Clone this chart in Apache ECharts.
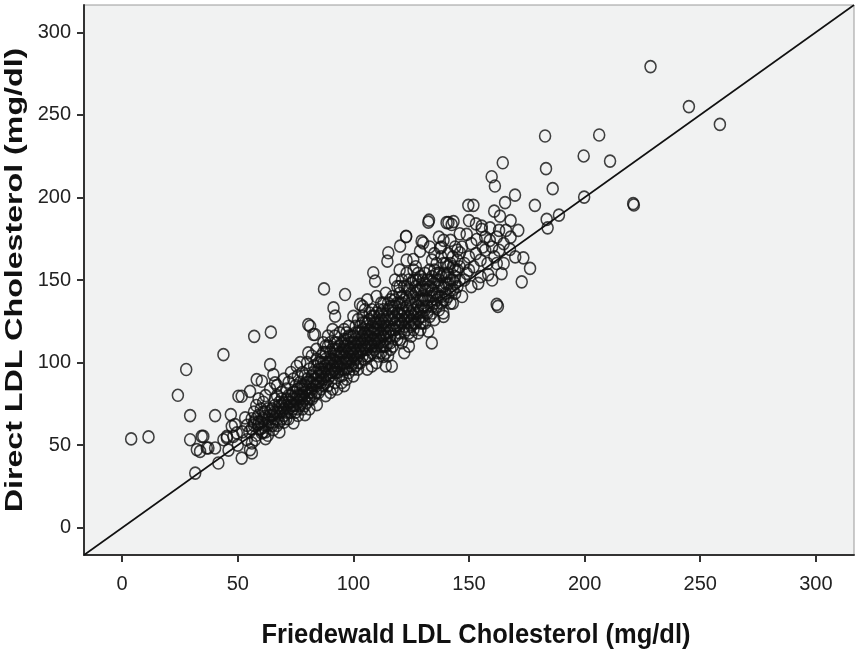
<!DOCTYPE html>
<html>
<head>
<meta charset="utf-8">
<script src="https://cdn.jsdelivr.net/npm/echarts@6/dist/echarts.min.js"></script>
<style>
html,body{margin:0;padding:0;background:#fff;}
#chart{width:858px;height:656px;}
</style>
</head>
<body>
<div id="chart"></div>
<script>
// Axis ranges and tick labels
const axisRange = [-16.5, 316.5];
const tickValues = [0, 50, 100, 150, 200, 250, 300];
const xTitle = 'Friedewald LDL Cholesterol (mg/dl)';
const yTitle = 'Direct LDL Cholesterol (mg/dl)';
// identity reference line (y = x) across the full axis range
const identityLine = [[-16.5, -16.5], [316.5, 316.5]];

// [Friedewald LDL, Direct LDL] pairs
const lowOutliers = [
  [3.9,53.8],[11.4,55],[24.1,80.2],[27.7,95.8],[29.4,67.9],[40.2,67.9],[47,68.5],
  [43.8,104.8],[57.1,115.9],[64.3,118.4],[50.3,79.6],[51.7,79.6],[31.6,33.1]
];
const segmentA = [
  [29.4,53.3],[34.4,55.3],[32.3,47.3],[36.6,48.3],[40.2,48.3],[43.8,53.3],[45.3,55.3],
  [48.1,55.3],[49.6,57.4],[41.6,39.2],[51.7,42.2],[55.3,47.3],[56.1,51.3],[57.5,53.3],
  [47.4,61.4],[48.8,62.4],[53.2,66.5],[35.1,55.3],[33.7,46.2],[45.3,54.4],[53.9,53.3],
  [56.1,45.3],[37.3,48.3],[52,58],[54,62],[50,50],[46,47]
];
const segmentB = [
  [58.9,62.4],[60.4,57.4],[65.4,59.4],[61.8,67.5],[64,70.5],[55.3,82.6],[58.2,89.7],
  [60.4,88.7],[64,98.8],[65.4,92.7],[66.1,87.7],[58,56],[59,60],[60,64],[61,58],[62,62],
  [63,66],[57,70],[58,74],[59,68],[60,72],[61,76],[62,54],[63,72],[64,64],[65,68],[66,74],
  [67,62],[68,70],[69,66],[66,78],[67,80],[68,76],[69,82],[70,72],[62,80],[64,84],[56,60],
  [57,64],[55,58],[68,58],[70,64],[59,78],[63,56],[67,86],[70,90],[61,70],[65,62],[69,74]
];
const segmentC = [
  [74.1,63.5],[79.1,68.5],[84.2,74.5],[75.5,97.8],[80.5,105.9],[83.4,117],[80.5,123],
  [71,70],[72,76],[73,80],[74,72],[75,78],[76,84],[77,74],[78,80],[79,86],[80,76],[81,82],
  [82,88],[83,80],[84,86],[85,92],[71,84],[72,88],[73,74],[74,90],[75,70],[76,92],[77,88],
  [78,94],[79,78],[80,90],[81,96],[82,84],[83,98],[84,94],[85,82],[72,66],[76,68],[78,72],
  [82,78],[85,100],[73,94],[77,100],[80,100],[82,104],[84,108],[71,78],[75,86],[79,92],
  [83,90],[81,72],[77,80],[74,82]
];
const segmentD = [
  [87.3,144.6],[91.4,133.1],[92.1,128.1],[81.3,122],[82.7,117],[96.4,141.2],[97,90],
  [86,84],[87,90],[88,96],[89,86],[90,92],[91,98],[92,88],[93,94],[94,100],[95,106],[96,96],
  [97,102],[98,108],[99,98],[100,104],[86,100],[87,106],[88,80],[89,110],[90,102],[91,84],
  [92,108],[93,112],[94,92],[95,88],[96,114],[97,118],[98,94],[99,112],[100,92],[86,94],
  [88,102],[90,82],[92,100],[94,106],[96,104],[98,100],[100,116],[87,112],[89,116],[91,120],
  [93,104],[95,96],[97,110],[99,106],[90,112],[94,118],[98,122],[86,88],[92,94],[96,86],
  [100,100],[88,88],[93,84],[97,96]
];
const segmentE = [
  [102.9,135.2],[108.6,154.4],[109.4,149.3],[113,103.8],[101,106],[102,112],[103,100],
  [104,108],[105,114],[106,104],[107,110],[108,118],[109,108],[110,114],[111,120],[112,110],
  [113,116],[114,122],[115,112],[101,118],[102,96],[103,122],[104,128],[105,102],[106,120],
  [107,126],[108,98],[109,124],[110,130],[111,104],[112,126],[113,132],[114,106],[115,128],
  [101,110],[103,114],[105,108],[107,116],[109,114],[111,112],[113,120],[115,118],[102,104],
  [104,116],[106,112],[108,110],[110,120],[112,118],[114,114],[104,134],[106,138],[110,140],
  [112,136],[114,142],[106,96],[110,100],[114,98],[108,128],[102,126],[105,132],[111,128],
  [107,104],[113,110],[101,98],[109,120],[115,104]
];
const segmentF = [
  [116.6,97.8],[115.1,166.5],[114.7,161.4],[120.2,170.5],[122.8,176.5],[130.2,172.5],
  [125.9,162.4],[128.8,167.5],[120.2,113.9],[116,120],[117,126],[118,116],[119,130],[120,122],
  [121,128],[122,118],[123,134],[124,124],[125,130],[126,120],[127,136],[128,126],[129,132],
  [130,140],[116,134],[117,110],[118,138],[119,114],[120,142],[121,112],[122,146],[123,120],
  [124,138],[125,116],[126,150],[127,124],[128,144],[129,120],[130,128],[118,124],[120,130],
  [122,126],[124,132],[126,128],[128,134],[130,124],[117,140],[119,146],[121,150],[123,154],
  [125,142],[127,146],[129,152],[116,108],[121,136],[125,122],[129,138],[124,110],[122,106],
  [128,118],[130,150],[118,150],[126,156],[120,156],[123,162],[127,158]
];
const segmentG = [
  [133.9,111.9],[132.4,119],[138.9,130.1],[137.5,169.5],[132.4,185],[140.3,184.7],
  [142.5,183.6],[132.7,186.2],[141.1,184.7],[143.3,185.3],[131,132],[132,138],[133,128],
  [134,144],[135,136],[136,150],[137,140],[138,146],[139,154],[140,142],[141,148],[142,160],
  [143,150],[144,156],[145,146],[131,144],[132,150],[133,156],[134,134],[135,126],[136,160],
  [137,132],[138,164],[139,138],[140,152],[141,166],[142,144],[143,136],[144,170],[145,162],
  [131,124],[133,140],[135,148],[137,154],[139,128],[141,140],[143,158],[134,162],[136,142],
  [138,170],[140,160],[142,174],[144,148],[131,154],[135,166],[139,174],[133,170],[137,176]
];
const segmentH = [
  [146.1,166.5],[149,177.6],[153.3,174.5],[155.5,180.6],[159.1,181.6],[158.3,153.3],
  [162,135.2],[149.7,195.2],[151.9,195.2],[155.5,182.6],[160.9,191.7],[163.4,188.7],
  [161.2,206.9],[159.8,212.5],[164.6,221],[165.6,196.8],[169.9,201.4],[171.3,180],
  [178.5,195.2],[173.5,163.4],[176.4,157],[164.1,153.9],[172.8,148.9],[167.7,168.5],
  [122.8,176.2],[129.5,173.5],[146,158],[147,170],[148,150],[150,164],[151,172],[152,158],
  [153,166],[154,148],[155,162],[156,170],[157,176],[158,160],[160,170],[161,164],[162,176],
  [163,168],[165,172],[166,180],[168,176],[170,164],[147,140],[149,154],[151,146],[153,184],
  [155,152],[157,168],[159,174],[146,178],[150,186],[160,150],[162,160],[165,160],[168,186],
  [163,180]
];
const segmentCore = [
  [56,66],[58,66],[60,60],[62,70],[63,62],[65,72],[66,66],[67,70],[68,64],[69,78],[70,68],
  [71,74],[72,72],[73,70],[74,78],[75,74],[76,80],[76,76],[77,84],[78,86],[78,76],[79,82],
  [80,84],[80,80],[81,88],[82,92],[83,86],[84,90],[85,88],[86,92],[86,96],[87,94],[87,100],
  [88,92],[88,106],[89,94],[89,100],[90,96],[90,106],[91,102],[91,108],[92,96],[92,104],
  [93,100],[93,108],[94,96],[94,110],[95,100],[95,112],[96,108],[96,100],[97,106],[97,114],
  [98,104],[98,112],[99,102],[99,116],[100,108],[100,112],[101,114],[101,102],[102,108],
  [102,118],[103,110],[103,106],[104,112],[104,120],[105,118],[105,110],[106,116],[106,124],
  [107,112],[107,120],[108,114],[108,122],[109,118],[109,128],[110,110],[110,124],[111,116],
  [111,124],[112,114],[112,122],[113,124],[113,128],[114,118],[114,126],[115,122],[115,132],
  [116,126],[116,116],[117,120],[117,130],[118,128],[118,134],[119,122],[119,136],[120,126],
  [120,136],[121,124],[121,132],[122,130],[122,138],[123,128],[123,140],[124,128],[124,144],
  [125,136],[125,126],[126,132],[126,140],[127,130],[127,142],[128,138],[128,150],[129,128],
  [129,144],[130,134],[130,146],[131,138],[132,144],[132,130],[133,146],[134,140],[134,152],
  [135,142],[136,138],[136,154],[137,146],[138,140],[138,152],[139,146],[140,148],[141,154],
  [142,150],[143,144],[144,152],[145,156],[146,150],[148,160],[150,156]
];
const segmentCore2 = [
  [57,62],[59,64],[61,66],[62,58],[64,68],[65,64],[66,70],[67,66],[68,74],[69,70],[70,76],
  [71,66],[72,80],[73,76],[74,74],[75,82],[76,72],[77,78],[78,84],[79,74],[80,88],[81,78],
  [82,82],[83,94],[84,82],[85,96],[86,104],[87,86],[88,98],[89,90],[90,100],[91,94],[92,112],
  [93,98],[94,104],[95,92],[96,110],[97,100],[98,116],[99,108],[100,96],[101,122],[102,100],
  [103,118],[104,104],[105,124],[106,108],[107,130],[108,106],[109,112],[110,106],[111,132],
  [112,106],[113,136],[114,110],[115,136],[116,112],[117,134],[118,120],[119,126],[120,118],
  [121,140],[122,122],[123,146],[124,118],[125,148],[126,124],[127,150],[128,130],[129,124],
  [130,138],[131,148],[132,134],[133,150],[134,130],[135,156],[136,134],[137,150],[138,136],
  [139,160],[140,138],[141,158],[142,136],[143,164],[144,142],[145,168],[104,124],[108,132],
  [96,120],[92,116],[88,110],[84,102],[100,128],[112,130],[116,138],[120,146],[124,150],
  [128,154]
];
const highOutliers = [
  [228.5,279.2],[245.1,255],[258.5,244.2],[182.9,237.2],[206.3,237.8],[199.6,225.1],
  [211,222],[183.3,217.4],[186.2,205.3],[221,196.2],[221.3,195.4],[199.8,200.2],
  [188.9,189.3],[183.6,186.7],[184,181.6],[162.5,134]
];

const allPoints = [].concat(lowOutliers, segmentA, segmentB, segmentC, segmentD,
  segmentE, segmentF, segmentG, segmentH, segmentCore, segmentCore2, highOutliers);

const chart = echarts.init(document.getElementById('chart'), null, {renderer: 'canvas'});
const labelFont = "'Liberation Sans', Arial, sans-serif";

function axisCommon() {
  return {
    type: 'value',
    min: axisRange[0],
    max: axisRange[1],
    axisLine: {show: true, onZero: false, lineStyle: {color: '#333', width: 2}},
    axisTick: {show: true, inside: false, length: 7, lineStyle: {color: '#333', width: 2},
               customValues: tickValues},
    axisLabel: {show: true, fontFamily: labelFont, fontSize: 20, color: '#222',
                customValues: tickValues},
    splitLine: {show: false}
  };
}

const xAxis = axisCommon();
xAxis.axisLabel.margin = 19;
const yAxis = axisCommon();
yAxis.axisLabel.margin = 13;

chart.setOption({
  animation: false,
  backgroundColor: '#ffffff',
  grid: {
    left: 84, top: 5, right: 4, bottom: 101,
    outerBoundsMode: 'none', containLabel: false,
    show: true, backgroundColor: '#f1f2f2', borderColor: '#9a9a9a', borderWidth: 1
  },
  xAxis: xAxis,
  yAxis: yAxis,
  graphic: [
    {
      type: 'text', x: 476, y: 635, scaleX: 0.91, scaleY: 1,
      style: {text: xTitle, font: "bold 28px 'Liberation Sans', Arial, sans-serif",
              fill: '#111', textAlign: 'center', textVerticalAlign: 'middle'}
    },
    {
      type: 'text', x: 15, y: 280, rotation: Math.PI / 2, scaleX: 1.34, scaleY: 1,
      style: {text: yTitle, font: "bold 24px 'Liberation Sans', Arial, sans-serif",
              fill: '#111', textAlign: 'center', textVerticalAlign: 'middle'}
    }
  ],
  series: [
    {
      type: 'scatter',
      data: allPoints,
      symbol: 'circle',
      symbolSize: [11, 12],
      itemStyle: {color: 'rgba(0,0,0,0)', borderColor: '#111', borderWidth: 1.6},
      z: 3
    },
    {
      type: 'line',
      data: identityLine,
      showSymbol: false,
      symbol: 'none',
      lineStyle: {color: '#111', width: 1.6},
      z: 4
    }
  ]
});
</script>
</body>
</html>
